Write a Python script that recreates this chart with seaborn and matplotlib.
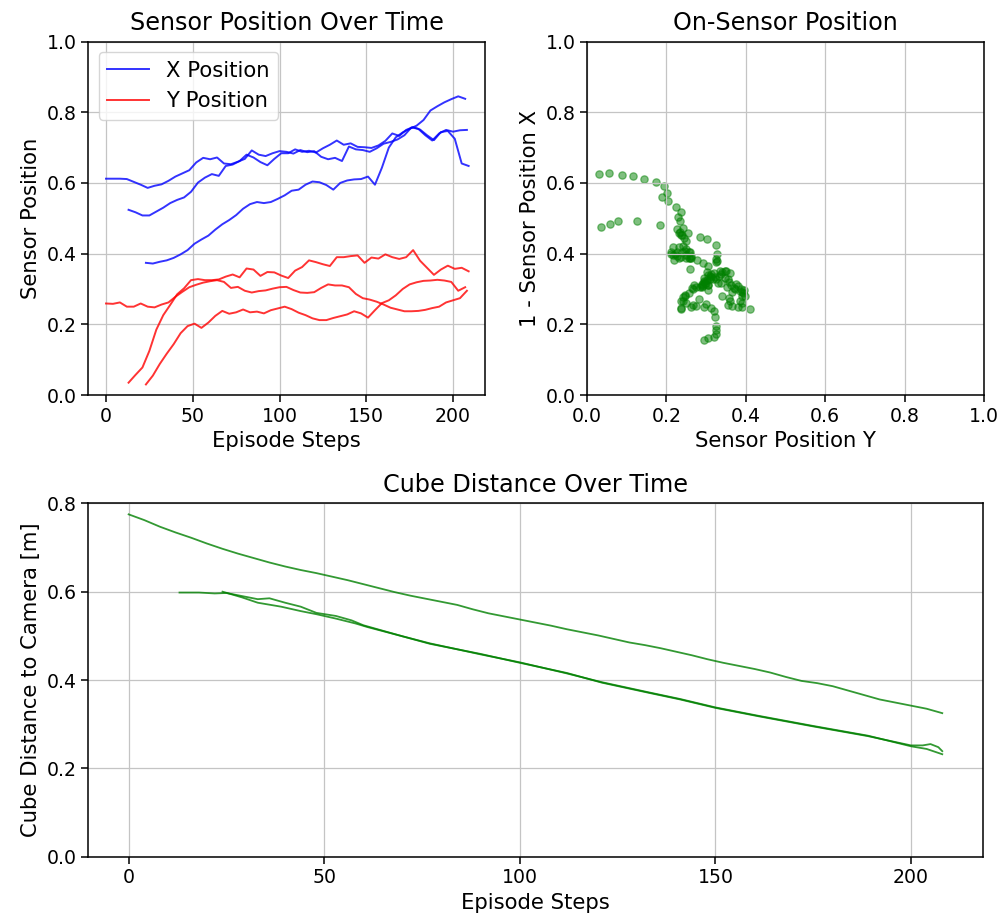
import numpy as np
import pandas as pd
import matplotlib
matplotlib.use("Agg")
import matplotlib.pyplot as plt
import seaborn as sns

# ---------------- data ----------------
steps_1 = list(range(0, 209, 4))
x_pos_1 = [0.612, 0.612, 0.612, 0.611, 0.603, 0.595, 0.586, 0.592, 0.596, 0.606,
           0.618, 0.627, 0.636, 0.658, 0.671, 0.667, 0.672, 0.655, 0.653, 0.660,
           0.668, 0.692, 0.680, 0.676, 0.684, 0.690, 0.688, 0.683, 0.693, 0.687,
           0.690, 0.674, 0.667, 0.671, 0.662, 0.703, 0.695, 0.693, 0.688, 0.698,
           0.711, 0.716, 0.723, 0.735, 0.757, 0.753, 0.735, 0.720, 0.740, 0.750,
           0.745, 0.749, 0.750]
y_pos_1 = [0.259, 0.258, 0.262, 0.250, 0.250, 0.259, 0.250, 0.248, 0.256, 0.262,
           0.278, 0.292, 0.305, 0.312, 0.318, 0.322, 0.325, 0.320, 0.303, 0.306,
           0.295, 0.290, 0.294, 0.296, 0.301, 0.305, 0.306, 0.297, 0.290, 0.289,
           0.291, 0.303, 0.313, 0.310, 0.310, 0.305, 0.286, 0.274, 0.270, 0.264,
           0.256, 0.247, 0.242, 0.237, 0.237, 0.238, 0.241, 0.246, 0.250, 0.262,
           0.268, 0.274, 0.295]

steps_2 = list(range(13, 210, 4))
x_pos_2 = [0.524, 0.517, 0.508, 0.508, 0.519, 0.530, 0.543, 0.552, 0.559, 0.575,
           0.601, 0.615, 0.625, 0.620, 0.648, 0.652, 0.662, 0.680, 0.672, 0.659,
           0.650, 0.668, 0.684, 0.684, 0.695, 0.688, 0.691, 0.686, 0.698, 0.708,
           0.720, 0.708, 0.712, 0.702, 0.701, 0.699, 0.706, 0.719, 0.740, 0.733,
           0.750, 0.758, 0.751, 0.735, 0.721, 0.744, 0.747, 0.725, 0.655, 0.648]
y_pos_2 = [0.035, 0.057, 0.078, 0.125, 0.185, 0.226, 0.255, 0.285, 0.302, 0.325,
           0.328, 0.325, 0.325, 0.327, 0.335, 0.341, 0.333, 0.358, 0.355, 0.337,
           0.348, 0.347, 0.338, 0.331, 0.352, 0.362, 0.381, 0.376, 0.370, 0.365,
           0.390, 0.390, 0.393, 0.395, 0.374, 0.389, 0.386, 0.398, 0.390, 0.385,
           0.390, 0.410, 0.380, 0.360, 0.340, 0.355, 0.366, 0.357, 0.360, 0.350]

steps_3 = list(range(23, 208, 4))
x_pos_3 = [0.374, 0.372, 0.377, 0.381, 0.388, 0.398, 0.410, 0.428, 0.440, 0.451,
           0.468, 0.483, 0.495, 0.509, 0.527, 0.540, 0.546, 0.543, 0.546, 0.555,
           0.565, 0.578, 0.581, 0.595, 0.604, 0.602, 0.594, 0.581, 0.600, 0.607,
           0.610, 0.611, 0.618, 0.595, 0.643, 0.700, 0.729, 0.743, 0.753, 0.762,
           0.778, 0.805, 0.817, 0.828, 0.837, 0.845, 0.838]
y_pos_3 = [0.030, 0.055, 0.088, 0.117, 0.144, 0.175, 0.195, 0.202, 0.190, 0.205,
           0.224, 0.238, 0.230, 0.234, 0.242, 0.234, 0.236, 0.231, 0.240, 0.245,
           0.250, 0.243, 0.233, 0.226, 0.217, 0.212, 0.212, 0.218, 0.223, 0.228,
           0.237, 0.231, 0.219, 0.240, 0.260, 0.268, 0.282, 0.300, 0.313, 0.319,
           0.323, 0.324, 0.326, 0.324, 0.320, 0.295, 0.305]

dist_steps_1 = list(range(0, 209, 4))
dist_1 = [0.775, 0.762, 0.747, 0.734, 0.722, 0.709, 0.697, 0.686, 0.676, 0.666,
          0.657, 0.649, 0.642, 0.634, 0.626, 0.617, 0.608, 0.599, 0.591, 0.584,
          0.577, 0.570, 0.560, 0.551, 0.544, 0.537, 0.530, 0.523, 0.515, 0.508,
          0.501, 0.493, 0.485, 0.479, 0.472, 0.464, 0.456, 0.447, 0.439, 0.432,
          0.425, 0.417, 0.407, 0.398, 0.393, 0.386, 0.376, 0.366, 0.356, 0.349,
          0.342, 0.335, 0.325]
dist_steps_2 = [13, 18, 22, 25, 29, 33, 36, 40, 44, 48, 53, 57, 60, 70, 77, 90, 100,
                112, 121, 133, 141, 150, 161, 175, 189, 200, 203, 205, 207, 208]
dist_2 = [0.598, 0.598, 0.596, 0.597, 0.590, 0.583, 0.585, 0.575, 0.566, 0.552,
          0.545, 0.535, 0.524, 0.499, 0.482, 0.459, 0.439, 0.416, 0.394, 0.371,
          0.356, 0.337, 0.318, 0.295, 0.273, 0.252, 0.252, 0.255, 0.248, 0.239]
dist_steps_3 = [24, 29, 33, 39, 44, 48, 53, 58, 61, 70, 77, 90, 100, 112, 121, 133,
                141, 150, 161, 175, 189, 200, 204, 208]
dist_3 = [0.600, 0.587, 0.575, 0.566, 0.556, 0.549, 0.539, 0.528, 0.520, 0.499,
          0.483, 0.458, 0.440, 0.415, 0.395, 0.372, 0.357, 0.338, 0.319, 0.296,
          0.274, 0.250, 0.244, 0.232]

# ---------------- style ----------------
plt.rcParams.update({
    "font.family": ["DejaVu Sans"],
    "font.size": 15.2,
    "axes.titlesize": 17.2,
    "axes.labelsize": 15.2,
    "xtick.labelsize": 13.6,
    "ytick.labelsize": 13.6,
    "legend.fontsize": 15.2,
    "axes.linewidth": 1.1,
    "grid.linewidth": 0.9,
    "grid.color": "#c4c4c4",
    "xtick.major.size": 4.8,
    "ytick.major.size": 4.8,
    "xtick.major.width": 1.1,
    "ytick.major.width": 1.1,
    "axes.titlepad": 8.5,
})

fig = plt.figure(figsize=(10.03, 9.23), dpi=100)
ax1 = fig.add_axes([0.0877, 0.572, 0.3958, 0.383])
ax2 = fig.add_axes([0.5852, 0.572, 0.3958, 0.383])
ax3 = fig.add_axes([0.0877, 0.0718, 0.8923, 0.3829])

episodes = [(steps_1, x_pos_1, y_pos_1), (steps_2, x_pos_2, y_pos_2), (steps_3, x_pos_3, y_pos_3)]

# ---- top-left: sensor position over time ----
for i, (st, xp, yp) in enumerate(episodes):
    sns.lineplot(x=st, y=xp, ax=ax1, color="blue", alpha=0.8, linewidth=1.4,
                 estimator=None, sort=False, label="X Position" if i == 0 else None)
for i, (st, xp, yp) in enumerate(episodes):
    sns.lineplot(x=st, y=yp, ax=ax1, color="red", alpha=0.8, linewidth=1.4,
                 estimator=None, sort=False, label="Y Position" if i == 0 else None)
ax1.set_xlim(-10.4, 218.4)
ax1.set_ylim(0, 1)
ax1.set_title("Sensor Position Over Time")
ax1.set_xlabel("Episode Steps")
ax1.set_ylabel("Sensor Position")
ax1.set_xticks([0, 50, 100, 150, 200])
ax1.set_yticks([0.0, 0.2, 0.4, 0.6, 0.8, 1.0])
ax1.grid(True)
ax1.legend(loc="upper left")

# ---- top-right: on-sensor position ----
scatter_df = pd.DataFrame({
    "sy": y_pos_1 + y_pos_2 + y_pos_3,
    "sx": x_pos_1 + x_pos_2 + x_pos_3,
})
scatter_df["inv_x"] = 1 - scatter_df["sx"]
sns.scatterplot(data=scatter_df, x="sy", y="inv_x", ax=ax2, color="green", alpha=0.5,
                s=28, edgecolor="green", linewidth=0.9)
ax2.set_xlim(0, 1)
ax2.set_ylim(0, 1)
ax2.set_title("On-Sensor Position")
ax2.set_xlabel("Sensor Position Y")
ax2.set_ylabel("1 - Sensor Position X")
ax2.set_xticks([0.0, 0.2, 0.4, 0.6, 0.8, 1.0])
ax2.set_yticks([0.0, 0.2, 0.4, 0.6, 0.8, 1.0])
ax2.grid(True)

# ---- bottom: cube distance ----
for st, d in [(dist_steps_1, dist_1), (dist_steps_2, dist_2), (dist_steps_3, dist_3)]:
    sns.lineplot(x=st, y=d, ax=ax3, color="green", alpha=0.8, linewidth=1.3,
                 estimator=None, sort=False)
ax3.set_xlim(-10.4, 218.4)
ax3.set_ylim(0, 0.8)
ax3.set_title("Cube Distance Over Time")
ax3.set_xlabel("Episode Steps")
ax3.set_ylabel("Cube Distance to Camera [m]")
ax3.set_xticks([0, 50, 100, 150, 200])
ax3.set_yticks([0.0, 0.2, 0.4, 0.6, 0.8])
ax3.grid(True)

fig.savefig("out.png", dpi=100)
